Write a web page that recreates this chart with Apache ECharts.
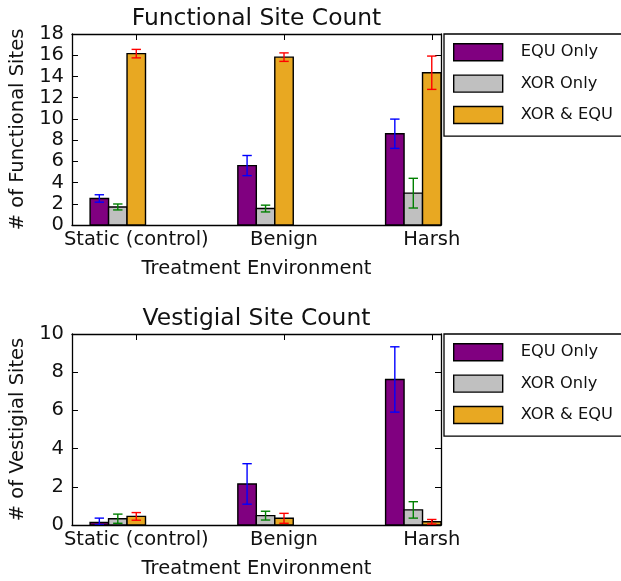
<!DOCTYPE html>
<html>
<head>
<meta charset="utf-8">
<script src="https://cdn.jsdelivr.net/npm/echarts@6/dist/echarts.min.js"></script>
<style>
  html, body { margin: 0; padding: 0; background: #fff; }
  #chart { width: 621px; height: 581px; }
</style>
</head>
<body>
<div id="chart"></div>
<script>
// categories and series
const categories = ['Static (control)', 'Benign', 'Harsh'];
const seriesNames = ['EQU Only', 'XOR Only', 'XOR & EQU'];
const yTicksFunctional = [0, 2, 4, 6, 8, 10, 12, 14, 16, 18];
const yTicksVestigial = [0, 2, 4, 6, 8, 10];

// functional site count (mean, error)
const funcEqu = [2.5, 5.6, 8.6];
const funcEquErr = [0.35, 0.95, 1.38];
const funcXor = [1.7, 1.55, 3.0];
const funcXorErr = [0.28, 0.32, 1.4];
const funcBoth = [16.15, 15.82, 14.35];
const funcBothErr = [0.4, 0.4, 1.57];

// vestigial site count (mean, error)
const vestEqu = [0.13, 2.15, 7.62];
const vestEquErr = [0.23, 1.06, 1.71];
const vestXor = [0.33, 0.49, 0.79];
const vestXorErr = [0.24, 0.23, 0.43];
const vestBoth = [0.45, 0.35, 0.17];
const vestBothErr = [0.2, 0.26, 0.12];

const FONT = 'DejaVu Sans';
const TXT = '#111';
const BAR_W = 0.125;
const offsets = [-0.25, -0.125, 0];
const fills = ['#800080', '#c0c0c0', '#e8a822'];
const errColors = ['#0000ff', '#008000', '#ff0000'];

const myChart = echarts.init(document.getElementById('chart'));

// 柱子 + 误差线
function makeRender(offset, fill, errColor) {
  return function (params, api) {
    const x = api.value(0) + offset;
    const v = api.value(1);
    const e = api.value(2);
    const p0 = api.coord([x - BAR_W / 2, v]);
    const p1 = api.coord([x + BAR_W / 2, 0]);
    const top = api.coord([x, v + e]);
    const bot = api.coord([x, Math.max(v - e, 0)]);
    const cap = 4.7;
    const ls = { stroke: errColor, lineWidth: 1.4 };
    return {
      type: 'group',
      children: [
        {
          type: 'rect',
          shape: { x: p0[0], y: p0[1], width: p1[0] - p0[0], height: p1[1] - p0[1] },
          style: { fill: fill, stroke: '#000', lineWidth: 1.4 }
        },
        { type: 'line', shape: { x1: top[0], y1: top[1], x2: bot[0], y2: bot[1] }, style: ls },
        { type: 'line', shape: { x1: top[0] - cap, y1: top[1], x2: top[0] + cap, y2: top[1] }, style: ls },
        { type: 'line', shape: { x1: bot[0] - cap, y1: bot[1], x2: bot[0] + cap, y2: bot[1] }, style: ls }
      ]
    };
  };
}

function buildSeries(gridIndex, values, errs) {
  return values.map((vals, i) => ({
    type: 'custom',
    name: seriesNames[i],
    xAxisIndex: gridIndex * 2,
    yAxisIndex: gridIndex * 2,
    clip: true,
    itemStyle: { color: fills[i], borderColor: '#000', borderWidth: 1.4 },
    renderItem: makeRender(offsets[i], fills[i], errColors[i]),
    encode: { x: 0, y: 1 },
    data: vals.map((v, k) => [k, v, errs[i][k]])
  }));
}

function xAxes(gridIndex) {
  const base = {
    type: 'value',
    gridIndex: gridIndex,
    min: -0.435,
    max: 2.0625,
    splitLine: { show: false },
    axisLine: { show: true, onZero: false, lineStyle: { color: '#000', width: 1.3 } },
    axisTick: { show: true, inside: true, length: 6, customValues: [0, 1, 2], lineStyle: { color: '#000', width: 1 } }
  };
  return [
    Object.assign({}, base, {
      position: 'bottom',
      axisLabel: {
        customValues: [0, 1, 2],
        formatter: (v) => categories[Math.round(v)],
        fontFamily: FONT, fontSize: 19.5, color: TXT, margin: 5
      },
      name: 'Treatment Environment',
      nameLocation: 'middle',
      nameGap: 34,
      nameTextStyle: { fontFamily: FONT, fontSize: 19.5, color: TXT }
    }),
    Object.assign({}, base, { position: 'top', axisLabel: { show: false } })
  ];
}

function yAxes(gridIndex, ticks, name) {
  const base = {
    type: 'value',
    gridIndex: gridIndex,
    min: ticks[0],
    max: ticks[ticks.length - 1],
    interval: ticks[1] - ticks[0],
    splitLine: { show: false },
    axisLine: { show: true, onZero: false, lineStyle: { color: '#000', width: 1.3 } },
    axisTick: { show: true, inside: true, length: 6, lineStyle: { color: '#000', width: 1 } }
  };
  return [
    Object.assign({}, base, {
      position: 'left',
      axisLabel: { fontFamily: FONT, fontSize: 19.5, color: TXT, margin: 8 },
      name: name,
      nameLocation: 'middle',
      nameGap: 42,
      nameTextStyle: { fontFamily: FONT, fontSize: 19.5, color: TXT }
    }),
    Object.assign({}, base, { position: 'right', axisLabel: { show: false } })
  ];
}

function legend(top) {
  return {
    orient: 'vertical',
    left: 444,
    top: top,
    padding: [9, 30, 12, 9],
    itemWidth: 49,
    itemHeight: 17,
    itemGap: 13,
    icon: 'rect',
    selectedMode: false,
    borderColor: '#000',
    borderWidth: 1.3,
    itemStyle: { borderColor: '#000', borderWidth: 1.4 },
    textStyle: { fontFamily: FONT, fontSize: 16.25, color: TXT, padding: [0, 0, 0, 13] },
    data: seriesNames
  };
}

const option = {
  animation: false,
  title: [
    { text: 'Functional Site Count', left: 256.5, top: 7, padding: 0, textAlign: 'center',
      textStyle: { fontFamily: FONT, fontSize: 23.4, fontWeight: 'normal', color: TXT } },
    { text: 'Vestigial Site Count', left: 256.5, top: 307, padding: 0, textAlign: 'center',
      textStyle: { fontFamily: FONT, fontSize: 23.4, fontWeight: 'normal', color: TXT } }
  ],
  legend: [legend(34), legend(334)],
  grid: [
    { left: 72, top: 34, width: 369, height: 191 },
    { left: 72, top: 334, width: 369, height: 191 }
  ],
  xAxis: xAxes(0).concat(xAxes(1)),
  yAxis: yAxes(0, yTicksFunctional, '# of Functional Sites').concat(yAxes(1, yTicksVestigial, '# of Vestigial Sites')),
  series: buildSeries(0, [funcEqu, funcXor, funcBoth], [funcEquErr, funcXorErr, funcBothErr])
    .concat(buildSeries(1, [vestEqu, vestXor, vestBoth], [vestEquErr, vestXorErr, vestBothErr]))
};

myChart.setOption(option);
</script>
</body>
</html>
